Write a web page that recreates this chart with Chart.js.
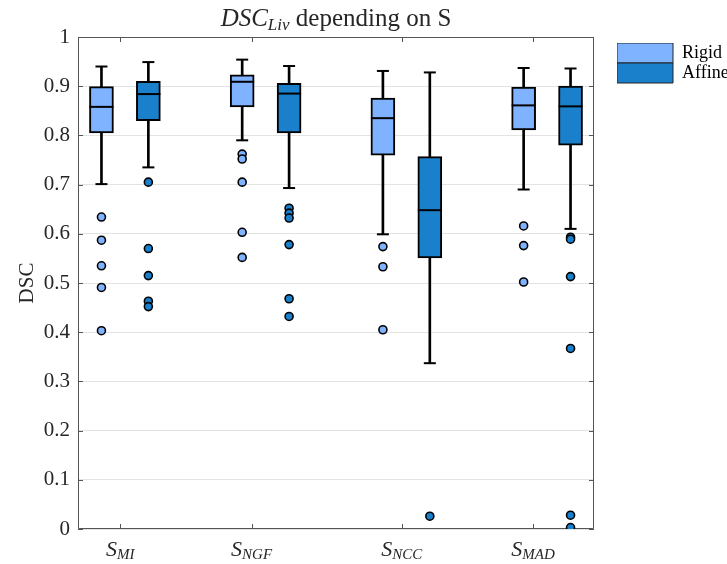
<!DOCTYPE html>
<html>
<head>
<meta charset="utf-8">
<script src="https://cdn.jsdelivr.net/npm/chart.js@4.4.1/dist/chart.umd.min.js"></script>
<style>
  html, body { margin: 0; padding: 0; background: #fff; overflow: hidden; }
</style>
</head>
<body>
<canvas id="boxChart" width="727" height="564"></canvas>
<script>
// Similarity measures (x groups)
const metrics = ['MI', 'NGF', 'NCC', 'MAD'];

// Rigid registration: whiskers, quartiles, median, outliers
const rigidMin = [0.701, 0.790, 0.599, 0.690];
const rigidQ1  = [0.805, 0.858, 0.760, 0.811];
const rigidMed = [0.858, 0.909, 0.835, 0.861];
const rigidQ3  = [0.899, 0.923, 0.876, 0.898];
const rigidMax = [0.940, 0.954, 0.931, 0.937];
const rigidOutliers = [
    [0.634, 0.587, 0.535, 0.491, 0.403],
    [0.762, 0.752, 0.705, 0.603, 0.552],
    [0.574, 0.533, 0.405],
    [0.616, 0.576, 0.502]
];

// Affine registration
const affineMin = [0.735, 0.693, 0.337, 0.610];
const affineQ1  = [0.830, 0.805, 0.551, 0.780];
const affineMed = [0.884, 0.885, 0.648, 0.859];
const affineQ3  = [0.910, 0.906, 0.757, 0.900];
const affineMax = [0.949, 0.941, 0.928, 0.936];
const affineOutliers = [
    [0.705, 0.570, 0.515, 0.463, 0.452],
    [0.652, 0.642, 0.632, 0.578, 0.468, 0.432],
    [0.026],
    [0.593, 0.589, 0.513, 0.367, 0.028, 0.003]
];

const yTicks = [0, 0.1, 0.2, 0.3, 0.4, 0.5, 0.6, 0.7, 0.8, 0.9, 1];
const titleText = ['DSC', 'Liv', ' depending on S'];

const RIGID = '#80b3ff';
const AFFINE = '#1a80cc';
const SERIF = '"Liberation Serif", "Times New Roman", serif';
const TEXT = '#262626';

// box slots on the x axis: pairs with a gap between groups
const rigidX = metrics.map((m, i) => 3 * i + 1);
const affineX = metrics.map((m, i) => 3 * i + 2);
const xTickPos = [1.4, 4.2, 7.4, 10.2]; // where the group labels sit

const boxData = (xs, q1, q3) => xs.map((x, i) => ({ x: x, y: [q1[i], q3[i]] }));
const stemData = (xs, lo, q1, q3, hi) => xs.flatMap((x, i) => [{ x: x, y: [q3[i], hi[i]] }, { x: x, y: [lo[i], q1[i]] }]);
const pointData = (xs, v) => xs.map((x, i) => ({ x: x, y: v[i] }));
const capData = (xs, lo, hi) => xs.flatMap((x, i) => [{ x: x, y: lo[i] }, { x: x, y: hi[i] }]);
const outlierData = (xs, outs) => xs.flatMap((x, i) => outs[i].map(v => ({ x: x, y: v })));

function drawRich(ctx, parts, cx, baseY) {
    let total = 0;
    parts.forEach(p => { ctx.font = p.font; p.w = ctx.measureText(p.text).width; total += p.w; });
    let x = cx - total / 2;
    parts.forEach(p => {
        ctx.font = p.font;
        ctx.fillText(p.text, x, baseY + (p.dy || 0));
        x += p.w;
    });
}

// frame + inward tick marks (MATLAB style box)
const axesBox = {
    id: 'axesBox',
    beforeDatasetsDraw(chart) {
        const { ctx, chartArea: a, scales } = chart;
        ctx.save();
        ctx.strokeStyle = '#555';
        ctx.lineWidth = 1;
        ctx.beginPath();
        ctx.rect(a.left + 0.5, a.top + 0.5, a.right - a.left - 1, a.bottom - a.top - 1);
        yTicks.forEach(v => {
            const y = Math.round(scales.y.getPixelForValue(v)) + 0.5;
            ctx.moveTo(a.left, y); ctx.lineTo(a.left + 5, y);
            ctx.moveTo(a.right - 5, y); ctx.lineTo(a.right, y);
        });
        xTickPos.forEach(v => {
            const x = Math.round(scales.x.getPixelForValue(v)) + 0.5;
            ctx.moveTo(x, a.bottom); ctx.lineTo(x, a.bottom - 5);
            ctx.moveTo(x, a.top); ctx.lineTo(x, a.top + 5);
        });
        ctx.stroke();
        ctx.restore();
    },
    afterDraw(chart) {
        const { ctx, chartArea: a, scales } = chart;
        ctx.save();
        ctx.fillStyle = TEXT;
        ctx.textBaseline = 'alphabetic';
        // title with subscript
        drawRich(ctx, [
            { text: titleText[0], font: 'italic 25px ' + SERIF },
            { text: titleText[1], font: 'italic 17px ' + SERIF, dy: 4 },
            { text: titleText[2], font: '25px ' + SERIF }
        ], (a.left + a.right) / 2, 26);
        // x labels S_xxx
        metrics.forEach((m, i) => {
            drawRich(ctx, [
                { text: 'S', font: 'italic 22px ' + SERIF },
                { text: m, font: 'italic 15px ' + SERIF, dy: 3 }
            ], scales.x.getPixelForValue(xTickPos[i]), 556);
        });
        ctx.restore();
    }
};

// put legend where the reference has it (text runs off the right edge)
const legendNudge = {
    id: 'legendNudge',
    afterLayout(chart) {
        const l = chart.legend;
        l.left += 23;
        l.right = chart.width;
        l.width = l.right - l.left;
        l.top += 6; l.bottom += 6;
    }
};

const ctx = document.getElementById('boxChart').getContext('2d');

new Chart(ctx, {
    type: 'scatter',
    data: {
        datasets: [
            {
                type: 'bar', label: 'Rigid',
                data: boxData(rigidX, rigidQ1, rigidQ3),
                backgroundColor: RIGID, borderColor: '#000', borderWidth: 2,
                borderSkipped: false, barThickness: 24, grouped: false, order: 3
            },
            {
                type: 'bar', label: 'Affine',
                data: boxData(affineX, affineQ1, affineQ3),
                backgroundColor: AFFINE, borderColor: '#000', borderWidth: 2,
                borderSkipped: false, barThickness: 24, grouped: false, order: 3
            },
            {
                type: 'bar', label: 'whiskers',
                data: stemData(rigidX, rigidMin, rigidQ1, rigidQ3, rigidMax)
                    .concat(stemData(affineX, affineMin, affineQ1, affineQ3, affineMax)),
                backgroundColor: '#000', borderWidth: 0,
                barThickness: 2, grouped: false, order: 4
            },
            {
                label: 'medians',
                data: pointData(rigidX, rigidMed).concat(pointData(affineX, affineMed)),
                pointStyle: 'line', pointRadius: 12, pointBorderWidth: 2,
                pointBorderColor: '#000', order: 2
            },
            {
                label: 'caps',
                data: capData(rigidX, rigidMin, rigidMax).concat(capData(affineX, affineMin, affineMax)),
                pointStyle: 'line', pointRadius: 6, pointBorderWidth: 2,
                pointBorderColor: '#000', order: 2
            },
            {
                label: 'rigid outliers',
                data: outlierData(rigidX, rigidOutliers),
                pointStyle: 'circle', pointRadius: 4, pointBorderWidth: 1.6,
                pointBackgroundColor: RIGID, pointBorderColor: '#000', order: 1
            },
            {
                label: 'affine outliers',
                data: outlierData(affineX, affineOutliers),
                pointStyle: 'circle', pointRadius: 4, pointBorderWidth: 1.6,
                pointBackgroundColor: AFFINE, pointBorderColor: '#000', order: 1
            }
        ]
    },
    options: {
        responsive: false,
        animation: false,
        events: [],
        layout: { padding: { top: 37, right: 33, bottom: 0, left: 0 } },
        plugins: {
            tooltip: { enabled: false },
            legend: {
                position: 'right',
                align: 'start',
                maxWidth: 100,
                labels: {
                    boxWidth: 56,
                    boxHeight: 20,
                    padding: 0,
                    color: '#000',
                    font: { family: SERIF, size: 18 },
                    generateLabels(chart) {
                        return Chart.defaults.plugins.legend.labels.generateLabels(chart)
                            .filter(item => item.text === 'Rigid' || item.text === 'Affine')
                            .map(item => Object.assign(item, { lineWidth: 1, strokeStyle: '#222' }));
                    }
                }
            }
        },
        scales: {
            x: {
                type: 'linear',
                min: 0.5,
                max: 11.5,
                offset: false,
                grid: { display: false },
                border: { display: false },
                ticks: { display: false },
                afterBuildTicks(scale) { scale.ticks = xTickPos.map(v => ({ value: v })); },
                afterFit(scale) { scale.height = 35; }
            },
            y: {
                type: 'linear',
                min: 0,
                max: 1,
                grid: { color: '#e3e3e3', drawTicks: false },
                border: { display: false },
                ticks: {
                    stepSize: 0.1,
                    padding: 8,
                    color: TEXT,
                    font: { family: SERIF, size: 21 },
                    callback: v => String(Number(v.toFixed(1)))
                },
                title: {
                    display: true,
                    text: 'DSC',
                    color: TEXT,
                    font: { family: SERIF, size: 21 },
                    padding: { top: 15, bottom: 0 }
                },
                afterFit(scale) { scale.width = 78; }
            }
        }
    },
    plugins: [axesBox, legendNudge]
});
</script>
</body>
</html>
